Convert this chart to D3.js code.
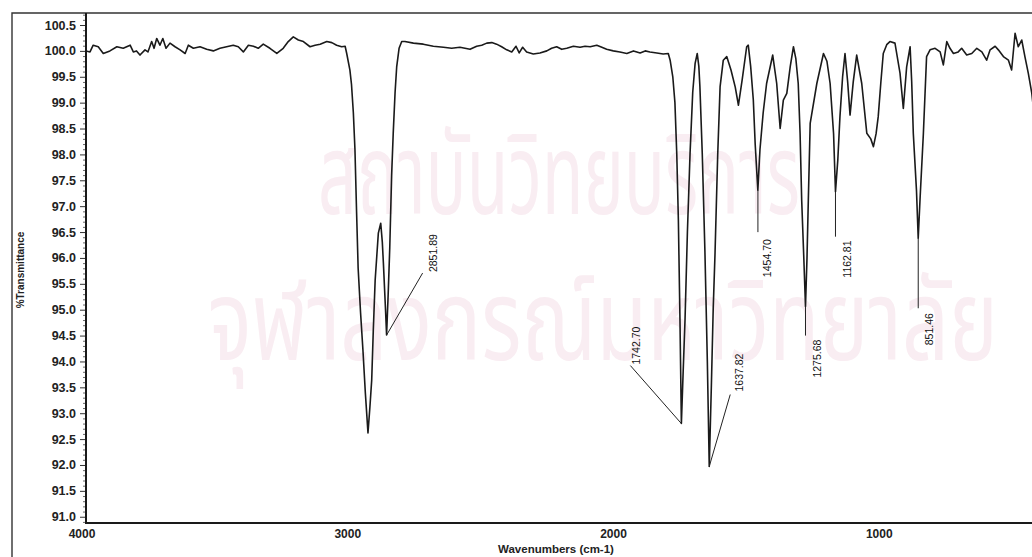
<!DOCTYPE html>
<html><head><meta charset="utf-8">
<script src="https://cdn.jsdelivr.net/npm/d3@7"></script>
<style>html,body{margin:0;padding:0;background:#fff;} svg{display:block;}</style>
</head><body><svg id="c" width="1032" height="557"></svg>
<script>
// ---- data (wavenumber cm-1, %T) ----
const spectrum = [
[3985,100.0],[3968,99.98],[3956,100.11],[3937,100.08],[3918,99.95],[3893,100.0],[3867,100.08],[3843,100.05],[3817,100.11],[3805,99.98],[3793,100.0],[3780,99.92],[3761,100.02],[3750,99.98],[3736,100.18],[3727,100.05],[3717,100.24],[3705,100.11],[3694,100.24],[3682,100.05],[3667,100.15],[3648,100.08],[3629,100.02],[3610,99.95],[3598,100.11],[3579,100.05],[3554,100.08],[3529,100.03],[3504,100.0],[3479,100.05],[3454,100.08],[3429,100.11],[3410,100.08],[3391,99.98],[3372,100.11],[3353,100.09],[3335,100.05],[3316,100.13],[3291,100.05],[3265,99.95],[3241,100.05],[3222,100.18],[3203,100.27],[3184,100.21],[3165,100.18],[3140,100.08],[3121,100.11],[3102,100.13],[3077,100.18],[3058,100.16],[3040,100.11],[3021,100.08],[3008,100.09],[3002,99.95],
[2990,99.63],[2984,99.35],[2977,98.8],[2971,98.09],[2965,96.9],[2959,95.8],[2950,94.95],[2941,94.22],[2932,93.4],[2922,92.62],[2915,93.1],[2908,93.64],[2902,94.6],[2895,95.57],[2883,96.48],[2874,96.67],[2868,96.3],[2864,95.9],[2856,95.0],[2852,94.51],[2846,95.3],[2840,96.2],[2833,97.6],[2827,98.41],[2820,99.2],[2814,99.69],[2805,100.05],[2795,100.18],
[2783,100.18],[2751,100.15],[2714,100.13],[2676,100.09],[2638,100.07],[2607,100.05],[2576,100.07],[2538,100.03],[2513,100.09],[2494,100.11],[2475,100.15],[2456,100.16],[2438,100.13],[2419,100.08],[2400,100.02],[2381,99.98],[2365,100.09],[2353,99.96],[2340,100.07],[2325,99.98],[2300,99.94],[2275,99.96],[2249,100.0],[2231,100.05],[2212,100.08],[2193,100.03],[2174,100.05],[2149,100.09],[2124,100.07],[2105,100.09],[2086,100.08],[2061,100.11],[2042,100.07],[2024,100.03],[1999,100.0],[1974,99.98],[1948,99.95],[1923,100.0],[1898,99.96],[1879,100.0],[1861,99.98],[1835,99.96],[1811,99.94],[1792,99.95],
[1785,99.82],[1775,99.5],[1767,99.0],[1760,98.0],[1754,96.73],[1748,94.8],[1742.7,92.8],[1736,93.8],[1729,94.8],[1720,96.5],[1710,98.03],[1700,99.2],[1691,99.76],[1683,99.95],[1677,99.7],[1673,99.31],[1664,98.0],[1654,96.1],[1645,94.0],[1637.8,91.97],[1630,93.5],[1623,95.0],[1616,96.1],[1606,98.0],[1597,99.31],[1585,99.82],[1572,99.89],[1556,99.63],[1540,99.3],[1528,98.95],[1514,99.44],[1497,100.08],[1491,100.11],[1482,99.7],[1472,99.05],[1465,98.2],[1455,97.31],[1447,98.09],[1435,98.8],[1422,99.37],[1399,99.92],[1384,99.37],[1371,98.5],[1359,99.05],[1346,99.18],[1333,99.7],[1321,100.08],[1312,99.85],[1303,99.37],[1296,98.4],[1290,97.12],[1282,96.0],[1275.7,95.06],[1270,96.0],[1265,97.12],[1258,98.6],[1233,99.37],[1208,99.95],[1195,99.8],[1183,99.37],[1170,98.4],[1162.8,97.28],[1154,97.9],[1146,98.73],[1136,99.5],[1127,99.95],[1117,99.4],[1108,98.76],[1096,99.4],[1083,99.92],[1064,99.37],[1045,98.41],[1030,98.3],[1020,98.15],[1010,98.4],[1002,98.73],[992,99.4],[983,99.95],[970,100.12],[958,100.18],[939,100.15],[920,99.57],[907.5,98.89],[895,99.69],[882,100.08],[876,99.4],[870,98.41],[858,97.3],[851.5,96.38],[844,97.2],[832,98.41],[820,99.89],
[807,100.02],[788,100.05],[769,99.98],[757,99.73],[744,100.18],[732,100.05],[719,99.95],[701,99.98],[688,100.05],[669,99.92],[650,99.95],[631,100.05],[612,99.98],[594,99.82],[581,100.02],[562,100.09],[550,100.02],[531,99.89],[512,99.82],[500,99.63],[487,100.34],[475,100.08],[462,100.21],[450,99.89],[437,99.56],[424,99.18],[412,98.6],[400,98.2]
];
const peakWavenumbers = [2851.89, 1742.70, 1637.82, 1454.70, 1275.68, 1162.81, 851.46];
const peakValues      = [94.51, 92.8, 91.97, 97.31, 95.06, 97.28, 96.38];
const peakTexts       = ["2851.89","1742.70","1637.82","1454.70","1275.68","1162.81","851.46"];
const yMajorTicks = [91.0,91.5,92.0,92.5,93.0,93.5,94.0,94.5,95.0,95.5,96.0,96.5,97.0,97.5,98.0,98.5,99.0,99.5,100.0,100.5];
const xTicks = [4000,3000,2000,1000];
const xTitle = "Wavenumbers (cm-1)";
const yTitle = "%Transmittance";
const watermark = ["สถาบันวิทยบริการ","จุฬาลงกรณ์มหาวิทยาลัย"];

// ---- layout (pixel offsets of peak annotations: line end dx,dy ; text dx,dy) ----
const labelLayout = [
  [36,-62,50,-63],
  [-51,-58,-41,-59],
  [21,-72,34,-75],
  [0,42,13,87],
  [0,29,16,71],
  [0,45,16,86],
  [0,70,15,107]
];
// watermark placement: x, baseline y, target width
const watermarkLayout = [[318,214,482],[208,360,790]];

const svg = d3.select("#c");
const L = 86, T = 13, B = 523, R = 1032;
const x = d3.scaleLinear().domain([4000,400]).range([81.5,1038.2]);
const y = d3.scaleLinear().domain([90.879,100.732]).range([523,13]);
const ink = "#1a1a1a";

svg.append("rect").attr("width",1032).attr("height",557).attr("fill","#fff");

// watermark (scaled horizontally to its measured width)
const wm = svg.append("g").attr("fill","#f9edf2").attr("font-family","'Noto Sans Thai','Loma','Garuda','Noto Sans',sans-serif");
watermark.forEach((t,i)=>{
  const [wx,wy,ww] = watermarkLayout[i];
  const el = wm.append("text").attr("font-size",100).text(t);
  const nat = el.node().getComputedTextLength() || ww;
  el.attr("transform",`translate(${wx},${wy}) scale(${ww/nat},1.12)`);
});

// outer frame
svg.append("path").attr("d",`M12,557V${T}H${R}`).attr("fill","none").attr("stroke","#333").attr("stroke-width",1.4);

// y axis
const fontFam = "'Liberation Sans',Arial,sans-serif";
const yAx = svg.append("g").attr("transform",`translate(${L},0)`)
  .call(d3.axisLeft(y).tickValues(yMajorTicks).tickFormat(d3.format(".1f")).tickSize(6).tickPadding(4));
yAx.select(".domain").remove();
yAx.selectAll("text").attr("font-family",fontFam).attr("font-weight","bold").attr("font-size",12.5).attr("fill","#222");
yAx.selectAll("line").attr("stroke","#333").attr("stroke-width",1);
const minor = d3.range(909,1008).filter(i=>i%5!==0).map(i=>i/10);
const yMin = svg.append("g").attr("transform",`translate(${L},0)`)
  .call(d3.axisLeft(y).tickValues(minor).tickFormat("").tickSize(3));
yMin.select(".domain").remove();
yMin.selectAll("line").attr("stroke","#444").attr("stroke-width",0.8);

// x axis
const xAx = svg.append("g").attr("transform",`translate(0,${B})`)
  .call(d3.axisBottom(x).tickValues(xTicks).tickFormat(d3.format("d")).tickSize(0).tickPadding(6));
xAx.select(".domain").remove();
xAx.selectAll("text").attr("font-family",fontFam).attr("font-weight","bold").attr("font-size",12).attr("fill","#222");

// axis lines
svg.append("line").attr("x1",L).attr("x2",L).attr("y1",T).attr("y2",B+1).attr("stroke",ink).attr("stroke-width",2);
svg.append("line").attr("x1",L).attr("x2",R).attr("y1",B).attr("y2",B).attr("stroke",ink).attr("stroke-width",2);

// titles
svg.append("text").attr("x",556).attr("y",553).attr("text-anchor","middle")
  .attr("font-family",fontFam).attr("font-weight","bold").attr("font-size",11.5).attr("fill","#222").text(xTitle);
svg.append("text").attr("transform","translate(24,270) rotate(-90)").attr("text-anchor","middle")
  .attr("font-family",fontFam).attr("font-weight","bold").attr("font-size",10).attr("fill","#222").text(yTitle);

// spectrum
svg.append("clipPath").attr("id","clip").append("rect").attr("x",L).attr("y",T).attr("width",R-L).attr("height",B-T);
svg.append("path").datum(spectrum).attr("clip-path","url(#clip)")
  .attr("fill","none").attr("stroke",ink).attr("stroke-width",1.6).attr("stroke-linejoin","round")
  .attr("d",d3.line().x(d=>x(d[0])).y(d=>y(d[1])));

// peak annotations
const ann = svg.append("g");
peakWavenumbers.forEach((w,i)=>{
  const px = x(w), py = y(peakValues[i]), o = labelLayout[i];
  ann.append("line").attr("x1",px).attr("y1",py).attr("x2",px+o[0]).attr("y2",py+o[1])
    .attr("stroke","#222").attr("stroke-width",1);
  ann.append("text").attr("transform",`translate(${px+o[2]},${py+o[3]}) rotate(-90)`)
    .attr("font-family",fontFam).attr("font-size",10.5).attr("fill","#111").text(peakTexts[i]);
});
</script></body></html>
